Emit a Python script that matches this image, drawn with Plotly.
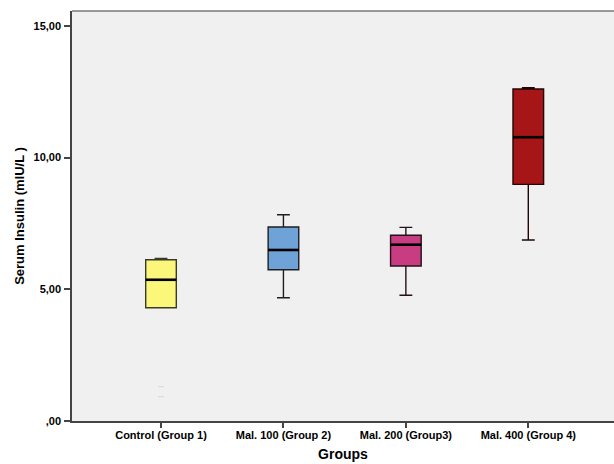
import plotly.graph_objects as go

categories = ["Control (Group 1)", "Mal. 100 (Group 2)", "Mal. 200 (Group3)", "Mal. 400 (Group 4)"]
lower_whisker = [4.30, 4.68, 4.77, 6.87]
q1_vals = [4.30, 5.74, 5.88, 8.98]
median_vals = [5.36, 6.49, 6.69, 10.77]
q3_vals = [6.12, 7.36, 7.05, 12.60]
upper_whisker = [6.17, 7.83, 7.35, 12.65]
fill_colors = ["#fbf77a", "#6fa3d8", "#c83c82", "#a61616"]
outline_colors = ["#3a3a28", "#1e1e1e", "#241018", "#200606"]
outlier_x = [0, 0]
outlier_y = [1.30, 0.92]
tick_vals = [0, 5, 10, 15]
tick_text = [",00", "5,00", "10,00", "15,00"]

fig = go.Figure()
for i, cat in enumerate(categories):
    fig.add_trace(go.Box(
        x=[i], q1=[q1_vals[i]], median=[median_vals[i]], q3=[q3_vals[i]],
        lowerfence=[lower_whisker[i]], upperfence=[upper_whisker[i]],
        fillcolor=fill_colors[i], line=dict(color=outline_colors[i], width=1.4),
        width=0.25, whiskerwidth=0.42, boxpoints=False, showlegend=False,
        hoverinfo="skip", name=cat,
    ))
    fig.add_trace(go.Scatter(
        x=[i - 0.125, i + 0.125], y=[median_vals[i], median_vals[i]],
        mode="lines", line=dict(color="#000000", width=2.6),
        showlegend=False, hoverinfo="skip",
    ))

fig.add_trace(go.Scatter(
    x=outlier_x, y=outlier_y, mode="markers",
    marker=dict(symbol="line-ew", size=4, line=dict(color="#d4d4d4", width=1)),
    showlegend=False, hoverinfo="skip",
))

fig.add_shape(type="line", xref="paper", yref="paper", x0=0, x1=1, y0=1, y1=1,
              line=dict(color="#7a7a7a", width=1.5))

fig.update_layout(
    width=614, height=464,
    margin=dict(l=72, r=0, t=11, b=43),
    paper_bgcolor="#ffffff", plot_bgcolor="#f0f0f0",
    font=dict(family="Liberation Sans, Arial, sans-serif", color="#000000"),
    xaxis=dict(
        range=[-0.727, 3.70], tickmode="array", tickvals=list(range(len(categories))),
        ticktext=["<b>%s</b>" % c for c in categories],
        showgrid=False, zeroline=False, showline=True, linecolor="#444444", linewidth=1.5,
        ticks="outside", ticklen=5, tickcolor="#444444", tickwidth=1.5,
        tickfont=dict(size=11), ticklabelstandoff=-2,
        title=dict(text="<b>Groups</b>", font=dict(size=14), standoff=9),
    ),
    yaxis=dict(
        range=[0, 15.56], tickmode="array", tickvals=tick_vals,
        ticktext=["<b>%s</b>" % t for t in tick_text],
        showgrid=False, zeroline=False, showline=True, linecolor="#444444", linewidth=1.5,
        ticks="outside", ticklen=6, tickcolor="#444444", tickwidth=1.5,
        tickfont=dict(size=11), ticklabelstandoff=1,
        title=dict(text="<b>Serum Insulin (mlU/L )</b>", font=dict(size=13), standoff=6),
    ),
)

fig.write_html("out.html", config={"displayModeBar": False},
               post_script="document.body.style.margin='0';document.body.style.overflow='hidden';")
